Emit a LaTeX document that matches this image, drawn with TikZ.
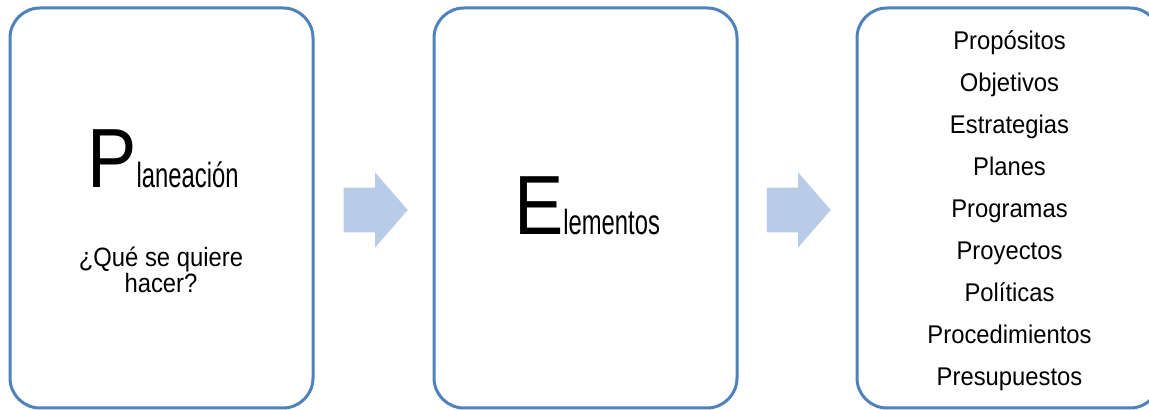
\documentclass[tikz,border=0pt]{standalone}
\usepackage{fontspec}
\setmainfont{Liberation Sans}
\newfontfamily\angosta[FakeStretch=0.68]{Liberation Sans}
\newfontfamily\media[FakeStretch=0.9]{Liberation Sans}
\newfontfamily\lineal[FakeStretch=0.93]{Liberation Sans}
\newfontfamily\capital[FakeStretch=0.88]{Liberation Sans}
\usetikzlibrary{shapes.arrows, positioning, calc}
\usepackage{xcolor}
\definecolor{bordeazul}{RGB}{79,129,189}
\definecolor{flechaazul}{RGB}{184,204,232}
\newcommand{\letragrande}[1]{{\capital\fontsize{42}{42}\selectfont #1}}
\tikzset{
    caja/.style={draw=bordeazul, line width=1.5pt, rounded corners=15pt, minimum width=151.5pt, minimum height=200pt},
    flecha/.style={single arrow, fill=flechaazul, inner sep=0pt, text height=11pt, text depth=11pt, minimum height=32pt, single arrow head extend=7.5pt, single arrow tip angle=98},
    titulo/.style={font=\angosta\fontsize{17.5}{18}\selectfont, inner sep=0pt},
    texto/.style={font=\media\fontsize{13.25}{13}\selectfont, align=center, inner sep=0pt},
    lista/.style={font=\lineal\fontsize{12.8}{21}\selectfont, align=center, inner sep=0pt}
}

\begin{document}
\begin{tikzpicture}[x=0.5pt, y=-0.5pt]
    \path[use as bounding box, clip] (0,0) rectangle (1149,410);
    % cajas
    \node[caja] (planeacion) at (161.5,208) {};
    \node[caja] (elementos) at (585.5,208) {};
    \node[caja] (lista) at (1008.5,208) {};
    % flechas
    \node[flecha] (f1) at (366,210) {};
    \node[flecha] (f2) at (789,210) {};
    % textos
    \node[titulo, anchor=base] (t1) at (163,188) {\letragrande{P}laneación};
    \node[texto, anchor=base] (t2) at (161,293) {¿Qué se quiere\\hacer?};
    \node[titulo, anchor=base] (t3) at (587,235) {\letragrande{E}lementos};
    \node[lista, anchor=base] (t4) at (1009.5,386) {Propósitos\\Objetivos\\Estrategias\\Planes\\Programas\\Proyectos\\Políticas\\Procedimientos\\Presupuestos};
\end{tikzpicture}
\end{document}
